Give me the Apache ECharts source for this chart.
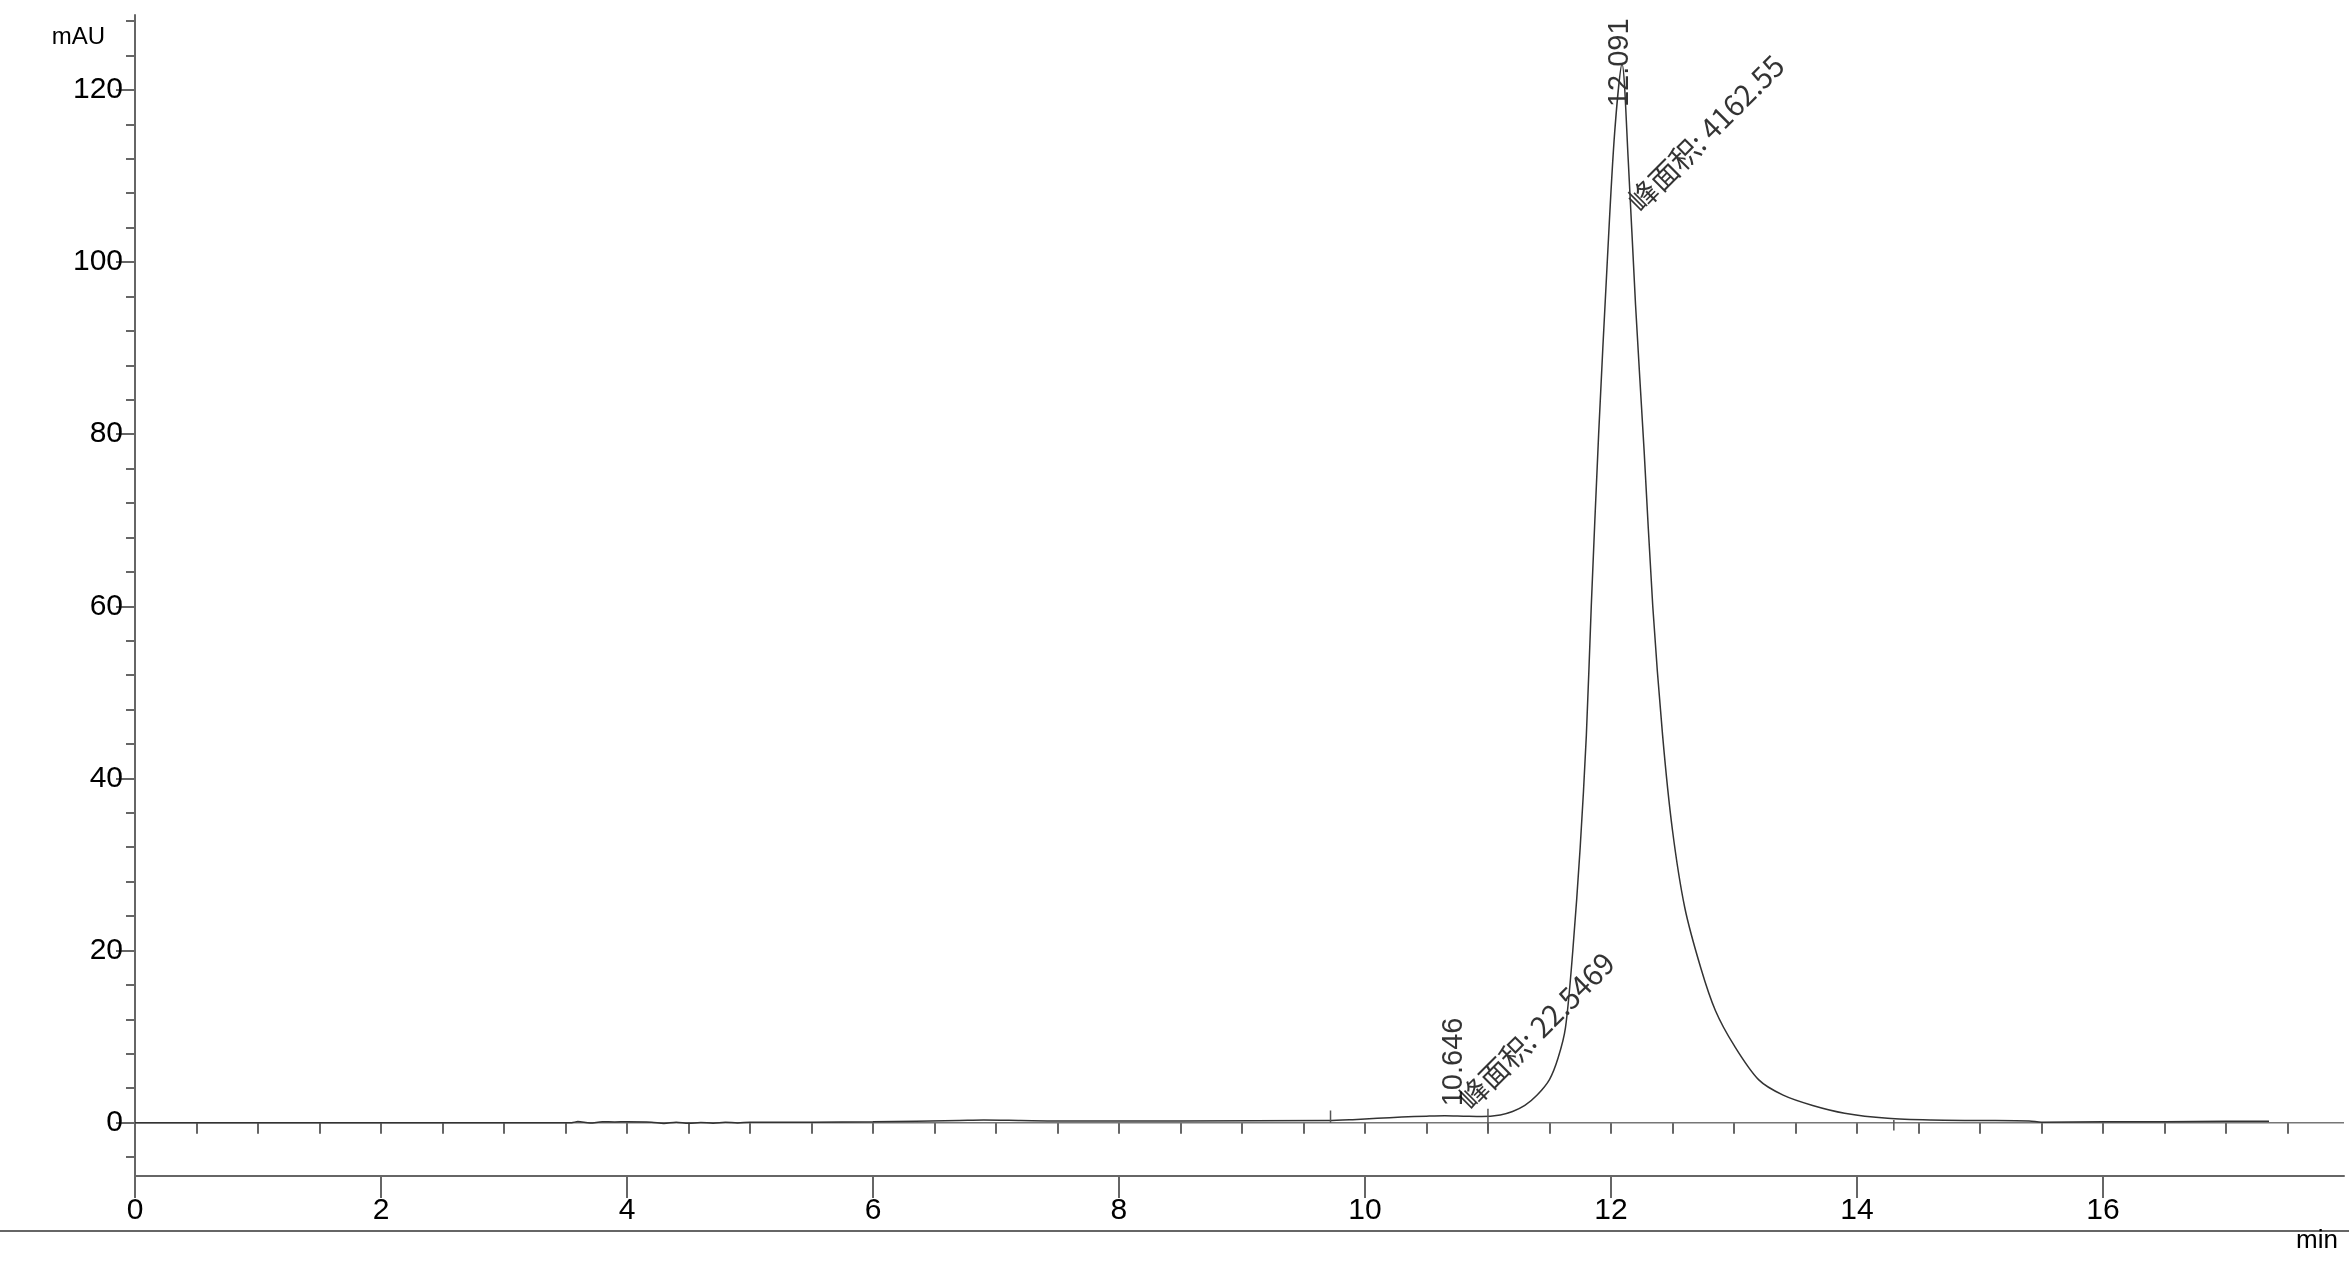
<!DOCTYPE html>
<html>
<head>
<meta charset="utf-8">
<script src="https://cdn.jsdelivr.net/npm/echarts@6/dist/echarts.min.js"></script>
<style>html,body{margin:0;padding:0;background:#fff}#main{width:2349px;height:1271px}</style>
</head>
<body>
<div id="main"></div>
<script>
// retention time (min) and signal (mAU)
var times = [0, 3.55, 3.6, 3.7, 3.8, 3.9, 4.0, 4.2, 4.3, 4.4, 4.5, 4.6, 4.7, 4.8, 4.9, 5.0, 5.5, 6.0, 6.7, 6.9, 7.2, 7.5, 8.5, 9.7, 9.9, 10.1, 10.3, 10.5, 10.65, 10.8, 10.95, 11.1, 11.2, 11.3, 11.4, 11.5, 11.57, 11.63, 11.69, 11.75, 11.8, 11.84, 11.9, 11.97, 12.03, 12.09, 12.14, 12.2, 12.27, 12.34, 12.42, 12.5, 12.6, 12.73, 12.85, 13.0, 13.2, 13.4, 13.64, 13.9, 14.25, 14.6, 15.0, 15.4, 15.5, 16.0, 16.5, 17.0, 17.35];
var signal = [0, 0, 0.12, -0.05, 0.1, 0.08, 0.1, 0.05, -0.1, 0.05, -0.08, 0.02, -0.06, 0.05, -0.04, 0.05, 0.05, 0.1, 0.25, 0.3, 0.25, 0.2, 0.2, 0.25, 0.35, 0.5, 0.65, 0.75, 0.8, 0.75, 0.7, 0.9, 1.3, 2.0, 3.2, 5.0, 7.5, 11, 20, 32, 45, 60, 80, 100, 115, 123, 112, 95, 78, 60, 45, 34, 25, 18, 13, 9, 5, 3.2, 2.0, 1.1, 0.5, 0.3, 0.25, 0.2, 0.05, 0.1, 0.1, 0.15, 0.15];
var yLabels = [0, 20, 40, 60, 80, 100, 120];
var xLabels = [0, 2, 4, 6, 8, 10, 12, 14, 16];
var peakTimes = [12.091, 10.646];
var peakAreas = ['4162.55', '22.5469'];

var X_MAX = 17.96, Y_MIN = -6.2, Y_MAX = 128.7;
var yMinor = [], xMinor = [];
for (var v = -4; v <= 128; v += 4) yMinor.push(v);
for (var t = 0; t <= 17.5; t += 0.5) xMinor.push(t);

var trace = times.map(function (t, i) { return [t, signal[i]]; });
var font = 'Liberation Sans, Arial, sans-serif';
var axisColor = '#666';

var chart = echarts.init(document.getElementById('main'));
chart.setOption({
    animation: false,
    grid: { left: 135, right: 5, top: 15, bottom: 95 },
    xAxis: [{
        type: 'value', min: 0, max: X_MAX,
        axisLine: { onZero: false, lineStyle: { color: axisColor, width: 2 } },
        axisTick: { length: 22, customValues: xLabels, lineStyle: { color: axisColor, width: 2 } },
        axisLabel: { customValues: xLabels, fontFamily: font, fontSize: 30, color: '#000', margin: 20 },
        splitLine: { show: false },
        name: 'min', nameLocation: 'end', nameGap: -48,
        nameTextStyle: { fontFamily: font, fontSize: 26, color: '#000', verticalAlign: 'top', padding: [52, 0, 0, 0] }
    }, {
        type: 'value', min: 0, max: X_MAX, position: 'bottom',
        axisLine: { show: false },
        axisTick: { length: 11, customValues: xMinor, lineStyle: { color: axisColor, width: 2 } },
        axisLabel: { show: false }, splitLine: { show: false }
    }],
    yAxis: [{
        type: 'value', min: Y_MIN, max: Y_MAX,
        axisLine: { show: true, onZero: false, lineStyle: { color: axisColor, width: 2 } },
        axisTick: { show: true, length: 19, customValues: yLabels, lineStyle: { color: axisColor, width: 2 } },
        axisLabel: { customValues: yLabels, fontFamily: font, fontSize: 30, color: '#000', margin: 12 },
        splitLine: { show: false },
        name: 'mAU', nameLocation: 'end', nameGap: -10,
        nameTextStyle: { fontFamily: font, fontSize: 24, color: '#000', align: 'right', verticalAlign: 'top', padding: [0, 30, 0, 0] }
    }, {
        type: 'value', min: Y_MIN, max: Y_MAX, position: 'left',
        axisLine: { show: false },
        axisTick: { show: true, length: 9, customValues: yMinor, lineStyle: { color: axisColor, width: 2 } },
        axisLabel: { show: false }, splitLine: { show: false }
    }],
    series: [{
        type: 'line', data: [[0, 0], [X_MAX, 0]], symbol: 'none',
        lineStyle: { color: '#777', width: 1.5 }, silent: true
    }, {
        type: 'line', data: trace, symbol: 'none', smooth: 0.3,
        lineStyle: { color: '#333', width: 1.5 }
    }, {
        type: 'line', symbol: 'none', lineStyle: { color: '#555', width: 1.5 },
        data: [[9.72, 0], [9.72, 1.4], null, [11.0, -0.9], [11.0, 1.6], null, [14.3, 0.3], [14.3, -0.9]],
        connectNulls: false
    }, {
        type: 'scatter', symbolSize: 0,
        data: [[peakTimes[0] - 0.02, 118], [peakTimes[1] + 0.08, 1.9]],
        label: {
            show: true, position: [0, 0], rotate: 90, align: 'left', verticalAlign: 'middle',
            fontFamily: font, fontSize: 29, color: '#000',
            formatter: function (p) { return peakTimes[p.dataIndex].toFixed(3); }
        }
    }, {
        type: 'scatter', symbolSize: 0,
        data: [[12.18, 106.5], [10.8, 2.2]],
        label: {
            show: true, position: [0, 0], rotate: 45, align: 'left', verticalAlign: 'middle',
            fontFamily: 'Noto Sans CJK SC, ' + font, fontSize: 29, color: '#000',
            formatter: function (p) { return '峰面积: ' + peakAreas[p.dataIndex]; }
        }
    }],
    graphic: [{
        type: 'line', shape: { x1: 0, y1: 1231, x2: 2349, y2: 1231 },
        style: { stroke: '#666', lineWidth: 2 }
    }]
});
</script>
</body>
</html>
